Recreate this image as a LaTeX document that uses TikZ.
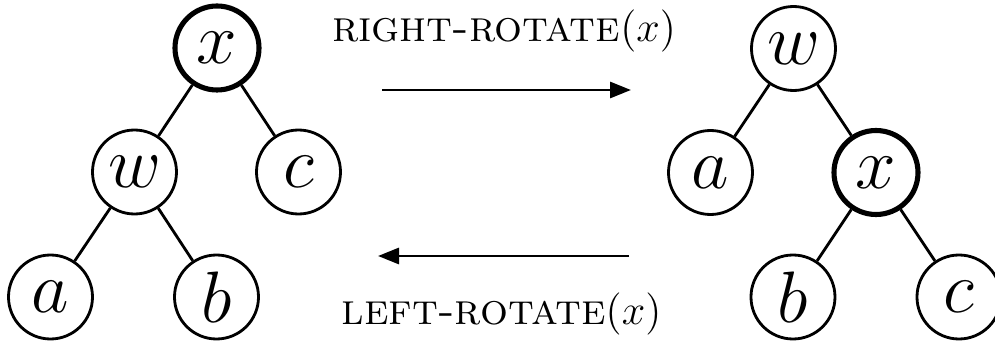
\documentclass[tikz,border=0pt]{standalone}
\usetikzlibrary{arrows.meta}
\usepackage{amsmath}

\begin{document}
\begin{tikzpicture}[
  every node/.style={font=\fontsize{20}{24}\selectfont},
  vert/.style={draw=black,circle,line width=0.8pt,minimum size=0.84cm,inner sep=0pt},
  pivot/.style={vert,line width=1.45pt},
  lbl/.style={font=\fontsize{12.5}{15}\selectfont},
  ed/.style={line width=0.8pt},
  ar/.style={-{Triangle[length=2.1mm,width=1.6mm]},line width=0.85pt}]
\useasboundingbox (0,0) rectangle (9.95,-3.41);
% before
\node[pivot] (lx) at (2.17,-0.48) {$x$};
\node[vert] (lw) at (1.345,-1.72) {$w$};
\node[vert] (lc) at (2.985,-1.72) {$c$};
\node[vert] (la) at (0.505,-2.97) {$a$};
\node[vert] (lb) at (2.165,-2.97) {$b$};
% after
\node[vert] (rw) at (7.935,-0.485) {$w$};
\node[vert] (ra) at (7.105,-1.725) {$a$};
\node[pivot] (rx) at (8.76,-1.725) {$x$};
\node[vert] (rb) at (7.93,-2.97) {$b$};
\node[vert] (rc) at (9.59,-2.97) {$c$};
\foreach \u/\v in {lx/lw,lx/lc,lw/la,lw/lb,rw/ra,rw/rx,rx/rb,rx/rc} \draw[ed] (\u) -- (\v);
% rotations
\coordinate (t0) at (3.82,-0.90);
\coordinate (t1) at (6.31,-0.90);
\coordinate (b0) at (6.29,-2.56);
\coordinate (b1) at (3.78,-2.56);
\draw[ar] (t0) -- (t1);
\draw[ar] (b0) -- (b1);
\node[lbl] (rr) at (5.04,-0.31) {\textsc{right-rotate}$(x)$};
\node[lbl] (lr) at (5.015,-3.14) {\textsc{left-rotate}$(x)$};
\end{tikzpicture}
\end{document}
